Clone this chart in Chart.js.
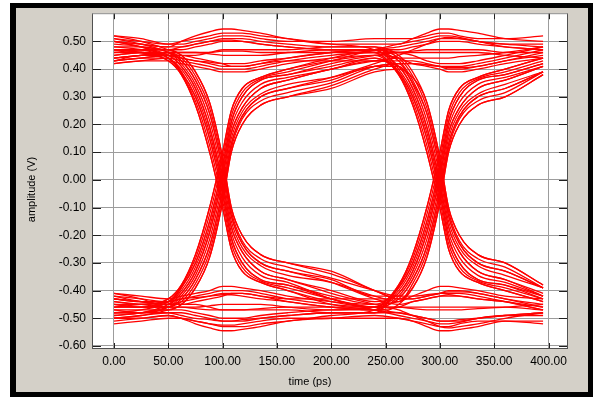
<!DOCTYPE html>
<html>
<head>
<meta charset="utf-8">
<script src="https://cdn.jsdelivr.net/npm/chart.js@4.4.1/dist/chart.umd.min.js"></script>
<style>
  html,body{margin:0;padding:0;background:#fff;}
  #eye{display:block;}
</style>
</head>
<body>
<canvas id="eye" width="593" height="397"></canvas>
<script>
// sample times (ps) shared by every trace
const timesPs = [0,25,50,62,75,88,100,108,118,135,160,200,240,262,275,288,300,308,318,335,360,395];

const xTicks = [0,50,100,150,200,250,300,350,400];
const yTicks = [-0.6,-0.5,-0.4,-0.3,-0.2,-0.1,0,0.1,0.2,0.3,0.4,0.5];

// bit patterns: stays high
const highHighHigh = [
  [0.50,0.49,0.48,0.50,0.52,0.535,0.545,0.545,0.54,0.53,0.51,0.49,0.49,0.49,0.51,0.53,0.545,0.545,0.54,0.53,0.51,0.50],
  [0.46,0.47,0.47,0.48,0.49,0.50,0.505,0.505,0.50,0.49,0.48,0.47,0.47,0.47,0.48,0.49,0.50,0.50,0.50,0.49,0.48,0.47],
  [0.44,0.45,0.46,0.46,0.46,0.46,0.465,0.465,0.465,0.46,0.46,0.46,0.46,0.46,0.46,0.46,0.46,0.46,0.46,0.46,0.45,0.44],
  [0.47,0.46,0.45,0.44,0.43,0.425,0.42,0.42,0.42,0.43,0.44,0.46,0.47,0.46,0.45,0.43,0.42,0.42,0.42,0.43,0.45,0.48],
  [0.42,0.43,0.43,0.42,0.41,0.40,0.39,0.39,0.39,0.40,0.42,0.44,0.45,0.44,0.42,0.41,0.40,0.39,0.39,0.40,0.42,0.44],
  [0.52,0.51,0.49,0.49,0.50,0.51,0.52,0.52,0.52,0.51,0.50,0.50,0.51,0.51,0.51,0.52,0.53,0.53,0.52,0.51,0.51,0.52],
  [0.43,0.44,0.45,0.45,0.44,0.43,0.42,0.41,0.41,0.42,0.43,0.43,0.43,0.43,0.43,0.42,0.41,0.40,0.40,0.41,0.43,0.46]
];
// stays low
const lowLowLow = [
  [-0.50,-0.50,-0.49,-0.50,-0.52,-0.535,-0.545,-0.545,-0.54,-0.53,-0.51,-0.50,-0.49,-0.50,-0.51,-0.53,-0.545,-0.545,-0.54,-0.53,-0.51,-0.51],
  [-0.47,-0.48,-0.48,-0.49,-0.50,-0.505,-0.51,-0.51,-0.505,-0.50,-0.49,-0.48,-0.48,-0.48,-0.49,-0.50,-0.51,-0.51,-0.505,-0.50,-0.49,-0.48],
  [-0.45,-0.46,-0.46,-0.46,-0.465,-0.47,-0.47,-0.47,-0.47,-0.465,-0.46,-0.46,-0.46,-0.46,-0.465,-0.47,-0.47,-0.47,-0.47,-0.465,-0.46,-0.45],
  [-0.46,-0.45,-0.44,-0.43,-0.425,-0.42,-0.415,-0.415,-0.42,-0.43,-0.44,-0.46,-0.47,-0.46,-0.44,-0.43,-0.42,-0.415,-0.42,-0.43,-0.44,-0.47],
  [-0.41,-0.42,-0.43,-0.42,-0.41,-0.40,-0.385,-0.385,-0.39,-0.40,-0.42,-0.44,-0.45,-0.44,-0.42,-0.40,-0.385,-0.385,-0.39,-0.40,-0.42,-0.43],
  [-0.52,-0.51,-0.50,-0.50,-0.51,-0.52,-0.525,-0.525,-0.52,-0.51,-0.50,-0.50,-0.50,-0.50,-0.51,-0.52,-0.53,-0.53,-0.52,-0.51,-0.51,-0.52],
  [-0.43,-0.44,-0.45,-0.45,-0.44,-0.43,-0.42,-0.41,-0.41,-0.42,-0.43,-0.43,-0.43,-0.43,-0.43,-0.42,-0.41,-0.40,-0.40,-0.41,-0.43,-0.46]
];
// rises at 100 ps, stays high
const lowHighHigh = [
  [-0.46,-0.46,-0.43,-0.38,-0.27,-0.10,0.10,0.25,0.33,0.37,0.40,0.44,0.47,0.48,0.49,0.50,0.51,0.51,0.51,0.50,0.48,0.47],
  [-0.43,-0.44,-0.44,-0.39,-0.30,-0.15,0.05,0.21,0.30,0.36,0.38,0.42,0.45,0.46,0.465,0.47,0.47,0.47,0.47,0.47,0.46,0.46],
  [-0.49,-0.48,-0.45,-0.41,-0.33,-0.19,0.01,0.17,0.26,0.33,0.36,0.40,0.43,0.44,0.44,0.44,0.44,0.44,0.445,0.45,0.46,0.48],
  [-0.41,-0.43,-0.46,-0.43,-0.36,-0.24,-0.04,0.13,0.23,0.30,0.33,0.37,0.42,0.45,0.47,0.49,0.51,0.515,0.51,0.50,0.49,0.48],
  [-0.47,-0.47,-0.47,-0.45,-0.39,-0.28,-0.08,0.10,0.20,0.27,0.30,0.34,0.40,0.42,0.42,0.415,0.41,0.405,0.405,0.41,0.43,0.45],
  [-0.45,-0.45,-0.44,-0.385,-0.285,-0.125,0.075,0.23,0.315,0.365,0.39,0.43,0.47,0.49,0.50,0.51,0.52,0.52,0.515,0.50,0.49,0.49],
  [-0.48,-0.48,-0.46,-0.42,-0.345,-0.215,-0.015,0.15,0.245,0.31,0.345,0.37,0.41,0.42,0.42,0.415,0.41,0.41,0.41,0.42,0.44,0.47]
];
// rises at 100 ps, falls at 300 ps
const lowHighLow = [
  [-0.44,-0.45,-0.43,-0.38,-0.27,-0.10,0.10,0.25,0.33,0.37,0.40,0.43,0.45,0.38,0.27,0.10,-0.10,-0.25,-0.33,-0.37,-0.40,-0.44],
  [-0.48,-0.47,-0.44,-0.39,-0.30,-0.15,0.05,0.21,0.30,0.36,0.38,0.41,0.44,0.39,0.30,0.15,-0.05,-0.21,-0.30,-0.36,-0.38,-0.42],
  [-0.42,-0.44,-0.45,-0.41,-0.33,-0.19,0.01,0.17,0.26,0.33,0.36,0.40,0.43,0.41,0.33,0.19,-0.01,-0.17,-0.26,-0.33,-0.36,-0.41],
  [-0.45,-0.46,-0.46,-0.43,-0.36,-0.24,-0.04,0.13,0.23,0.30,0.33,0.36,0.41,0.41,0.35,0.24,0.04,-0.13,-0.23,-0.30,-0.33,-0.39],
  [-0.50,-0.49,-0.47,-0.45,-0.39,-0.28,-0.08,0.10,0.20,0.27,0.30,0.33,0.39,0.40,0.37,0.28,0.08,-0.10,-0.20,-0.27,-0.30,-0.38],
  [-0.43,-0.44,-0.44,-0.40,-0.315,-0.17,0.03,0.19,0.28,0.345,0.37,0.40,0.44,0.385,0.285,0.125,-0.075,-0.23,-0.315,-0.365,-0.39,-0.43],
  [-0.49,-0.48,-0.46,-0.44,-0.375,-0.26,-0.06,0.115,0.22,0.285,0.315,0.35,0.41,0.42,0.345,0.215,0.015,-0.15,-0.245,-0.31,-0.345,-0.39]
];
// high until 300 ps, then falls
const highHighLow = [
  [0.48,0.48,0.47,0.47,0.48,0.49,0.50,0.50,0.50,0.49,0.48,0.47,0.46,0.38,0.27,0.10,-0.10,-0.25,-0.33,-0.37,-0.40,-0.44],
  [0.44,0.45,0.46,0.46,0.46,0.455,0.45,0.45,0.45,0.45,0.46,0.47,0.47,0.39,0.30,0.15,-0.05,-0.21,-0.30,-0.36,-0.38,-0.43],
  [0.51,0.50,0.49,0.50,0.51,0.52,0.53,0.53,0.53,0.52,0.51,0.49,0.47,0.41,0.33,0.19,-0.01,-0.17,-0.26,-0.33,-0.36,-0.42],
  [0.42,0.43,0.44,0.43,0.42,0.41,0.40,0.40,0.40,0.41,0.43,0.45,0.46,0.43,0.36,0.24,0.04,-0.13,-0.23,-0.30,-0.33,-0.39],
  [0.46,0.46,0.45,0.45,0.45,0.46,0.47,0.47,0.47,0.47,0.47,0.48,0.48,0.45,0.39,0.28,0.08,-0.10,-0.20,-0.27,-0.30,-0.38],
  [0.50,0.49,0.48,0.48,0.49,0.50,0.51,0.51,0.51,0.50,0.49,0.48,0.48,0.40,0.315,0.17,-0.03,-0.19,-0.28,-0.345,-0.37,-0.42],
  [0.43,0.44,0.45,0.44,0.43,0.42,0.41,0.41,0.41,0.42,0.44,0.46,0.47,0.44,0.375,0.26,0.06,-0.115,-0.22,-0.285,-0.315,-0.39]
];
// falls at 100 ps, rises at 300 ps
const highLowHigh = [
  [0.45,0.46,0.43,0.38,0.27,0.10,-0.10,-0.25,-0.33,-0.37,-0.40,-0.44,-0.46,-0.38,-0.27,-0.10,0.10,0.25,0.33,0.37,0.40,0.44],
  [0.49,0.48,0.44,0.39,0.30,0.15,-0.05,-0.21,-0.30,-0.36,-0.38,-0.42,-0.45,-0.39,-0.30,-0.15,0.05,0.21,0.30,0.36,0.38,0.42],
  [0.43,0.45,0.45,0.41,0.33,0.19,-0.01,-0.17,-0.26,-0.33,-0.36,-0.40,-0.44,-0.41,-0.33,-0.19,0.01,0.17,0.26,0.33,0.36,0.41],
  [0.51,0.49,0.46,0.43,0.36,0.24,0.04,-0.13,-0.23,-0.30,-0.33,-0.36,-0.42,-0.42,-0.36,-0.24,-0.04,0.13,0.23,0.30,0.33,0.39],
  [0.47,0.47,0.47,0.45,0.39,0.28,0.08,-0.10,-0.20,-0.27,-0.30,-0.33,-0.40,-0.43,-0.39,-0.28,-0.08,0.10,0.20,0.27,0.30,0.38],
  [0.47,0.47,0.44,0.385,0.285,0.125,-0.075,-0.23,-0.315,-0.365,-0.39,-0.43,-0.46,-0.40,-0.315,-0.17,0.03,0.19,0.28,0.345,0.37,0.41],
  [0.50,0.48,0.46,0.42,0.345,0.215,0.015,-0.15,-0.245,-0.31,-0.345,-0.37,-0.42,-0.44,-0.375,-0.26,-0.06,0.115,0.22,0.285,0.315,0.39]
];
// falls at 100 ps, stays low
const highLowLow = [
  [0.47,0.46,0.43,0.38,0.27,0.10,-0.10,-0.25,-0.33,-0.37,-0.40,-0.45,-0.47,-0.48,-0.49,-0.50,-0.51,-0.51,-0.51,-0.50,-0.49,-0.48],
  [0.43,0.44,0.44,0.39,0.30,0.15,-0.05,-0.21,-0.30,-0.36,-0.38,-0.43,-0.46,-0.46,-0.46,-0.46,-0.46,-0.46,-0.46,-0.46,-0.46,-0.47],
  [0.50,0.48,0.45,0.41,0.33,0.19,-0.01,-0.17,-0.26,-0.33,-0.36,-0.41,-0.45,-0.47,-0.49,-0.51,-0.53,-0.535,-0.53,-0.52,-0.50,-0.48],
  [0.45,0.46,0.46,0.43,0.36,0.24,0.04,-0.13,-0.23,-0.30,-0.33,-0.37,-0.43,-0.45,-0.44,-0.43,-0.42,-0.42,-0.42,-0.43,-0.44,-0.46],
  [0.52,0.50,0.47,0.45,0.39,0.28,0.08,-0.10,-0.20,-0.27,-0.30,-0.34,-0.40,-0.43,-0.43,-0.42,-0.41,-0.405,-0.405,-0.41,-0.43,-0.45],
  [0.48,0.47,0.44,0.40,0.315,0.17,-0.03,-0.19,-0.28,-0.345,-0.37,-0.43,-0.47,-0.49,-0.50,-0.51,-0.52,-0.52,-0.515,-0.50,-0.49,-0.49],
  [0.44,0.45,0.46,0.44,0.375,0.26,0.06,-0.115,-0.22,-0.285,-0.315,-0.355,-0.40,-0.42,-0.42,-0.415,-0.41,-0.41,-0.41,-0.42,-0.44,-0.47]
];
// low until 300 ps, then rises
const lowLowHigh = [
  [-0.48,-0.48,-0.47,-0.47,-0.48,-0.49,-0.50,-0.50,-0.50,-0.49,-0.48,-0.47,-0.46,-0.38,-0.27,-0.10,0.10,0.25,0.33,0.37,0.40,0.44],
  [-0.44,-0.45,-0.46,-0.46,-0.46,-0.455,-0.45,-0.45,-0.45,-0.45,-0.46,-0.47,-0.47,-0.39,-0.30,-0.15,0.05,0.21,0.30,0.36,0.38,0.42],
  [-0.51,-0.50,-0.49,-0.50,-0.51,-0.52,-0.53,-0.53,-0.53,-0.52,-0.51,-0.49,-0.47,-0.41,-0.33,-0.19,0.01,0.17,0.26,0.33,0.36,0.41],
  [-0.42,-0.43,-0.44,-0.43,-0.42,-0.41,-0.40,-0.40,-0.40,-0.41,-0.43,-0.45,-0.46,-0.43,-0.36,-0.24,-0.04,0.13,0.23,0.30,0.33,0.39],
  [-0.46,-0.46,-0.45,-0.45,-0.45,-0.46,-0.47,-0.47,-0.47,-0.47,-0.47,-0.48,-0.48,-0.45,-0.39,-0.28,-0.08,0.10,0.20,0.27,0.30,0.38],
  [-0.50,-0.49,-0.48,-0.48,-0.49,-0.50,-0.51,-0.51,-0.51,-0.50,-0.49,-0.48,-0.48,-0.385,-0.285,-0.125,0.075,0.23,0.315,0.365,0.39,0.43],
  [-0.43,-0.44,-0.45,-0.44,-0.43,-0.42,-0.41,-0.41,-0.41,-0.42,-0.44,-0.46,-0.47,-0.42,-0.345,-0.215,-0.015,0.15,0.245,0.31,0.345,0.39]
];

const traces = [].concat(highHighHigh, lowLowLow, lowHighHigh, lowHighLow,
                         highHighLow, highLowHigh, highLowLow, lowLowHigh);

const FONT = "'Liberation Sans', Arial, sans-serif";

const frame = {
  id: "frame",
  beforeDraw(chart){
    const {ctx, chartArea:a} = chart;
    ctx.save();
    ctx.fillStyle = "#ffffff"; ctx.fillRect(0,0,chart.width,chart.height);
    ctx.fillStyle = "#000000"; ctx.fillRect(10,3,583,394);
    ctx.fillStyle = "#d4d0c8"; ctx.fillRect(16,8,572,384);
    ctx.fillStyle = "#ffffff"; ctx.fillRect(a.left,a.top,a.right-a.left,a.bottom-a.top);
    ctx.restore();
  },
  afterDraw(chart){
    const {ctx, chartArea:a, scales:{x,y}} = chart;
    ctx.save();
    ctx.lineWidth = 1;
    ctx.strokeStyle = "#202020";
    ctx.beginPath();
    yTicks.forEach(v => {
      const py = Math.round(y.getPixelForValue(v)) + 0.5;
      ctx.moveTo(a.left, py); ctx.lineTo(a.left+9, py);
      ctx.moveTo(a.right-9, py); ctx.lineTo(a.right, py);
    });
    xTicks.forEach(v => {
      const px = Math.round(x.getPixelForValue(v)) + 0.5;
      ctx.moveTo(px, a.bottom); ctx.lineTo(px, a.bottom-6);
      ctx.moveTo(px, a.top); ctx.lineTo(px, a.top+6);
    });
    ctx.stroke();
    // plot border
    ctx.strokeStyle = "#505050";
    ctx.beginPath();
    ctx.moveTo(a.left+0.5, a.top); ctx.lineTo(a.left+0.5, a.bottom);
    ctx.moveTo(a.left, a.bottom-0.5); ctx.lineTo(a.right, a.bottom-0.5);
    ctx.moveTo(a.right-0.5, a.top); ctx.lineTo(a.right-0.5, a.bottom);
    ctx.stroke();
    ctx.strokeStyle = "#8a8a8a";
    ctx.beginPath();
    ctx.moveTo(a.left, a.top+0.5); ctx.lineTo(a.right, a.top+0.5);
    ctx.stroke();
    // axis titles
    ctx.fillStyle = "#000";
    ctx.font = "11px " + FONT;
    ctx.textAlign = "center"; ctx.textBaseline = "middle";
    ctx.fillText("time (ps)", 310, 382);
    ctx.translate(31.5, 189.5);
    ctx.rotate(-Math.PI/2);
    ctx.fillText("amplitude (V)", 0, 0);
    ctx.restore();
  }
};

new Chart(document.getElementById("eye"), {
  type: "line",
  data: {
    datasets: traces.map(row => ({
      data: row.map((v,i) => ({x: timesPs[i], y: v})),
      borderColor: "#ff0000",
      borderWidth: 1.3,
      pointRadius: 0,
      fill: false,
      cubicInterpolationMode: "monotone"
    }))
  },
  options: {
    responsive: false,
    devicePixelRatio: 1,
    animation: false,
    layout: { padding: { left:0, top:13, right:25, bottom:0 } },
    plugins: { legend:{ display:false }, tooltip:{ enabled:false } },
    scales: {
      x: {
        type: "linear", min: -20.25, max: 417.95,
        afterBuildTicks: s => { s.ticks = xTicks.map(v => ({value:v})); },
        afterFit: s => { s.height = 48; },
        ticks: { color:"#000", padding:5, font:{ family:FONT, size:12 }, callback: v => Number(v).toFixed(2) },
        grid: { color:"#9c9c9c", drawTicks:false },
        border: { display:false }
      },
      y: {
        min: -0.611, max: 0.602,
        afterBuildTicks: s => { s.ticks = yTicks.map(v => ({value:v})); },
        afterFit: s => { s.width = 92; },
        ticks: { color:"#000", padding:6, font:{ family:FONT, size:12 }, callback: v => Number(v).toFixed(2) },
        grid: { color:"#9c9c9c", drawTicks:false },
        border: { display:false }
      }
    }
  },
  plugins: [frame]
});
</script>
</body>
</html>
